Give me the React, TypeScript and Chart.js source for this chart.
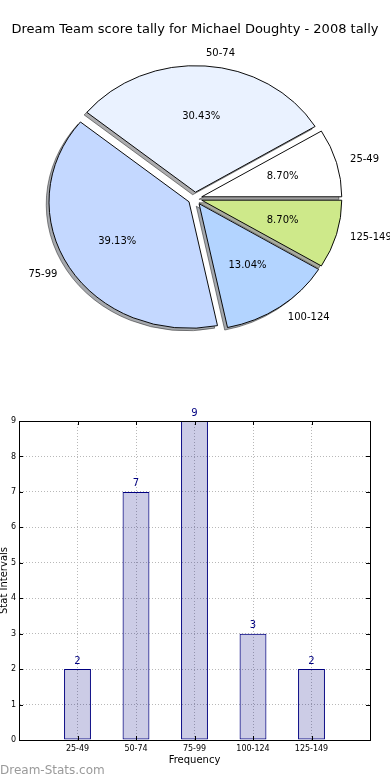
import React, { useEffect, useRef } from 'react';
import { Chart, registerables } from 'chart.js';

Chart.register(...registerables);

const TITLE = 'Dream Team score tally for Michael Doughty - 2008 tally';
const categories = ['25-49', '50-74', '75-99', '100-124', '125-149'];
const counts = [2, 7, 9, 3, 2];
const sliceColors = ['#ffffff', '#eaf2ff', '#c4d8ff', '#b3d4ff', '#cee98a'];
const xAxisTitle = 'Frequency';
const yAxisTitle = 'Stat Intervals';
const yMax = 9;
const watermark = 'Dream-Stats.com';

const FONT = "'DejaVu Sans', 'Liberation Sans', sans-serif";
const Y_SQUASH = 126.5 / 140;
const EXPLODE = 7;
const SHADOW = 2.8;

const total = counts.reduce((a, b) => a + b, 0);
// Chart.js draws clockwise; reverse so slices run counter-clockwise from 3 o'clock
const pieLabels = [...categories].reverse();
const pieValues = [...counts].reverse();
const pieColors = [...sliceColors].reverse();

const piePlugin = {
  id: 'pieDraw',
  beforeDatasetsDraw(chart: any) {
    const ctx = chart.ctx;
    const arcs = chart.getDatasetMeta(0).data;
    if (!arcs.length) return false;
    const cx = arcs[0].x;
    const cy = arcs[0].y;
    ctx.save();
    ctx.translate(cx, cy);
    ctx.scale(1, Y_SQUASH);
    ctx.translate(-cx, -cy);
    // shadows
    ctx.save();
    ctx.filter = 'brightness(0.3)';
    ctx.globalAlpha = 0.45;
    arcs.forEach((arc: any) => {
      const mid = (arc.startAngle + arc.endAngle) / 2;
      ctx.save();
      ctx.translate(Math.cos(mid) * EXPLODE - SHADOW, Math.sin(mid) * EXPLODE + SHADOW);
      arc.draw(ctx);
      ctx.restore();
    });
    ctx.restore();
    // wedges
    arcs.forEach((arc: any) => {
      const mid = (arc.startAngle + arc.endAngle) / 2;
      ctx.save();
      ctx.translate(Math.cos(mid) * EXPLODE, Math.sin(mid) * EXPLODE);
      arc.draw(ctx);
      ctx.restore();
    });
    ctx.restore();
    return false;
  },
  afterDraw(chart: any) {
    const ctx = chart.ctx;
    const arcs = chart.getDatasetMeta(0).data;
    const labels = chart.data.labels;
    const vals = chart.data.datasets[0].data;
    ctx.save();
    ctx.font = `10px ${FONT}`;
    ctx.fillStyle = '#000';
    ctx.textBaseline = 'middle';
    arcs.forEach((arc: any, i: number) => {
      const mid = (arc.startAngle + arc.endAngle) / 2;
      const c = Math.cos(mid);
      const s = Math.sin(mid);
      const r = arc.outerRadius;
      const pr = 0.6 * r + EXPLODE;
      ctx.textAlign = 'center';
      ctx.fillText(((vals[i] / total) * 100).toFixed(2) + '%', arc.x + c * pr, arc.y + s * pr * Y_SQUASH);
      const lr = 1.1 * r + EXPLODE;
      ctx.textAlign = c >= 0 ? 'left' : 'right';
      ctx.fillText(labels[i], arc.x + c * lr, arc.y + s * lr * Y_SQUASH);
    });
    ctx.restore();
  },
};

const barPlugin = {
  id: 'barExtras',
  afterDraw(chart: any) {
    const ctx = chart.ctx;
    const { left, right, top, bottom } = chart.chartArea;
    const xs = chart.scales.x;
    const ys = chart.scales.y;
    ctx.save();
    ctx.strokeStyle = '#000';
    ctx.lineWidth = 1;
    ctx.beginPath();
    // inward ticks
    ys.ticks.forEach((t: any) => {
      const y = Math.round(ys.getPixelForValue(t.value)) + 0.5;
      ctx.moveTo(left, y);
      ctx.lineTo(left + 4, y);
      ctx.moveTo(right, y);
      ctx.lineTo(right - 4, y);
    });
    xs.ticks.forEach((t: any) => {
      const x = Math.round(xs.getPixelForValue(t.value)) + 0.5;
      ctx.moveTo(x, bottom);
      ctx.lineTo(x, bottom - 4);
      ctx.moveTo(x, top);
      ctx.lineTo(x, top + 4);
    });
    ctx.stroke();
    ctx.strokeRect(Math.round(left) + 0.5, Math.round(top) + 0.5, Math.round(right - left), Math.round(bottom - top));
    // value labels
    const bars = chart.getDatasetMeta(0).data;
    const data = chart.data.datasets[0].data;
    ctx.font = `10px ${FONT}`;
    ctx.fillStyle = '#000080';
    ctx.textAlign = 'center';
    ctx.textBaseline = 'bottom';
    bars.forEach((b: any, i: number) => {
      ctx.fillText(String(data[i].y), b.x, b.y - 3);
    });
    ctx.restore();
  },
};

export default function App() {
  const pieRef = useRef<HTMLCanvasElement>(null);
  const barRef = useRef<HTMLCanvasElement>(null);

  useEffect(() => {
    const pie = new Chart(pieRef.current as HTMLCanvasElement, {
      type: 'pie',
      data: {
        labels: pieLabels,
        datasets: [
          {
            data: pieValues,
            backgroundColor: pieColors,
            borderColor: '#000',
            borderWidth: 1,
            radius: 140,
            rotation: 90,
          } as any,
        ],
      },
      options: {
        responsive: false,
        animation: false,
        layout: { padding: { top: 0, bottom: 30.6, left: 0, right: 0 } },
        plugins: {
          legend: { display: false },
          tooltip: { enabled: false },
          title: {
            display: true,
            text: TITLE,
            color: '#000',
            font: { family: FONT, size: 13, weight: 'normal' },
            padding: { top: 22, bottom: 0 },
          },
        },
      } as any,
      plugins: [piePlugin],
    });

    const bar = new Chart(barRef.current as HTMLCanvasElement, {
      type: 'bar',
      data: {
        datasets: [
          {
            data: counts.map((v, i) => ({ x: i + 1, y: v })),
            backgroundColor: 'rgba(0,0,128,0.2)',
            borderColor: '#000080',
            borderWidth: 1,
            borderSkipped: false,
            barPercentage: 0.46,
            categoryPercentage: 1,
          } as any,
        ],
      },
      options: {
        responsive: false,
        animation: false,
        layout: { padding: { top: 31, right: 20, bottom: 0, left: 0 } },
        plugins: { legend: { display: false }, tooltip: { enabled: false } },
        scales: {
          x: {
            type: 'linear',
            min: 0,
            max: categories.length + 1,
            offset: false,
            z: 1,
            grid: { offset: false, color: '#b8b8b8', lineWidth: 1, drawTicks: false },
            border: { display: true, color: '#000', dash: [1, 2] },
            ticks: {
              stepSize: 1,
              autoSkip: false,
              maxRotation: 0,
              padding: 4,
              color: '#000',
              font: { family: FONT, size: 8 },
              callback: (v: any) => categories[Number(v) - 1] ?? '',
            },
            title: {
              display: true,
              text: xAxisTitle,
              color: '#000',
              font: { family: FONT, size: 10, lineHeight: 1 },
              padding: { top: 0, bottom: 15 },
            },
            afterFit: (s: any) => {
              s.height = 40;
            },
          },
          y: {
            min: 0,
            max: yMax,
            z: 1,
            grid: { color: '#b8b8b8', lineWidth: 1, drawTicks: false },
            border: { display: true, color: '#000', dash: [1, 2] },
            ticks: {
              stepSize: 1,
              padding: 3,
              color: '#000',
              font: { family: FONT, size: 8 },
            },
            title: {
              display: true,
              text: yAxisTitle,
              color: '#000',
              font: { family: FONT, size: 10, lineHeight: 1 },
              padding: { top: -1, bottom: 0 },
            },
            afterFit: (s: any) => {
              s.width = 19;
            },
          },
        },
      } as any,
      plugins: [barPlugin],
    });

    return () => {
      pie.destroy();
      bar.destroy();
    };
  }, []);

  return (
    <div style={{ position: 'absolute', left: 0, top: 0, width: 390, height: 780, background: '#fff' }}>
      <canvas ref={pieRef} width={390} height={390} style={{ position: 'absolute', left: 0, top: 0, width: 390, height: 390 }} />
      <canvas ref={barRef} width={390} height={390} style={{ position: 'absolute', left: 0, top: 390, width: 390, height: 390 }} />
      <div
        style={{
          position: 'absolute',
          left: 0,
          top: 762,
          fontFamily: FONT,
          fontSize: 12,
          lineHeight: '16px',
          color: '#9a9a9a',
          whiteSpace: 'nowrap',
        }}
      >
        {watermark}
      </div>
    </div>
  );
}
